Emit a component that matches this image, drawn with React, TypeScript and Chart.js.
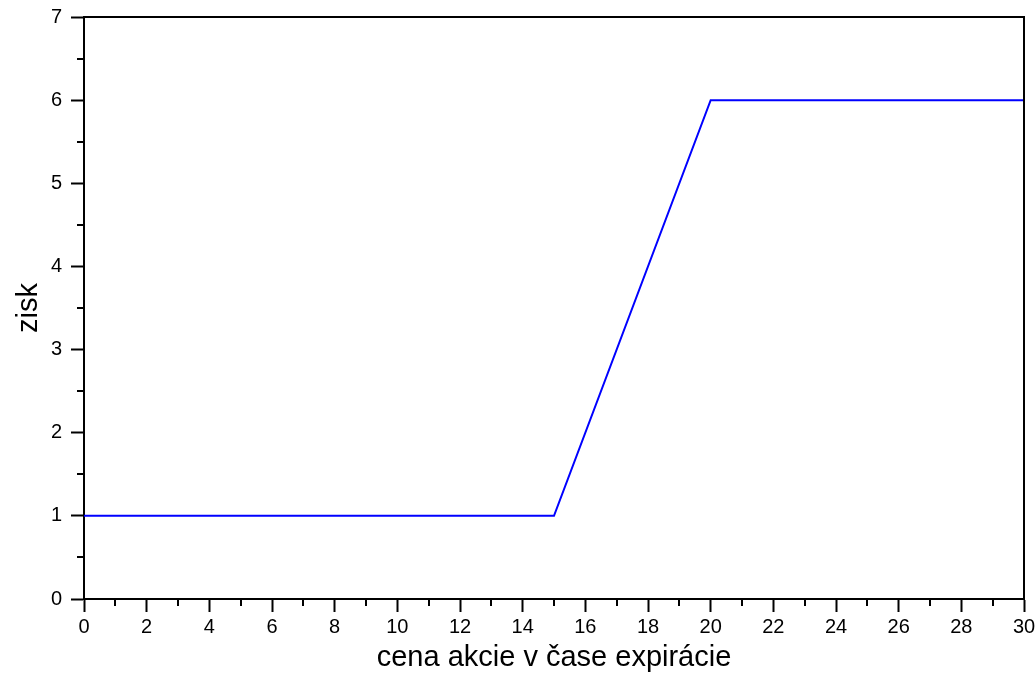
import React, { useEffect, useRef } from "react";
import { Chart, registerables } from "chart.js";

Chart.register(...registerables);

const priceX = [0, 15, 20, 30];
const profitY = [1, 1, 6, 6];
const xMinorTicks = [1, 3, 5, 7, 9, 11, 13, 15, 17, 19, 21, 23, 25, 27, 29];
const yMinorTicks = [0.5, 1.5, 2.5, 3.5, 4.5, 5.5, 6.5];
const xTitle = "cena akcie v čase expirácie";
const yTitle = "zisk";

const FONT = "'Liberation Sans', Arial, Helvetica, sans-serif";

const framePlugin = {
  id: "frameAndMinor",
  afterDraw(chart: any) {
    const { ctx, chartArea } = chart;
    const xs = chart.scales.x;
    const ys = chart.scales.y;
    ctx.save();
    ctx.strokeStyle = "#000";
    ctx.lineWidth = 2;
    ctx.beginPath();
    ctx.moveTo(chartArea.left, chartArea.top);
    ctx.lineTo(chartArea.right, chartArea.top);
    ctx.lineTo(chartArea.right, chartArea.bottom);
    ctx.stroke();
    ctx.beginPath();
    for (const v of xMinorTicks) {
      const px = Math.round(xs.getPixelForValue(v));
      ctx.moveTo(px, chartArea.bottom);
      ctx.lineTo(px, chartArea.bottom + 7);
    }
    for (const v of yMinorTicks) {
      const py = Math.round(ys.getPixelForValue(v));
      ctx.moveTo(chartArea.left - 7, py);
      ctx.lineTo(chartArea.left, py);
    }
    ctx.stroke();
    ctx.restore();
  },
};

export default function App() {
  const ref = useRef<HTMLCanvasElement | null>(null);
  useEffect(() => {
    if (!ref.current) return;
    const chart = new Chart(ref.current, {
      type: "scatter",
      data: {
        datasets: [
          {
            data: priceX.map((x, i) => ({ x, y: profitY[i] })),
            showLine: true,
            borderColor: "#0000ff",
            borderWidth: 2,
            pointRadius: 0,
            fill: false,
          },
        ],
      },
      options: {
        animation: false,
        responsive: false,
        devicePixelRatio: 1,
        layout: { padding: { top: 17, right: 12, left: 0, bottom: 0 } },
        plugins: { legend: { display: false }, tooltip: { enabled: false } },
        scales: {
          x: {
            type: "linear",
            min: 0,
            max: 30,
            afterFit: (s: any) => {
              s.height = 76;
              s.paddingLeft = 0;
              s.paddingRight = 0;
            },
            ticks: {
              stepSize: 2,
              color: "#000",
              padding: 3,
              maxRotation: 0,
              autoSkip: false,
              font: { family: FONT, size: 20 },
            },
            grid: {
              drawOnChartArea: false,
              drawTicks: true,
              tickLength: 13,
              tickColor: "#000",
              tickWidth: 2,
            },
            border: { display: true, color: "#000", width: 2 },
            title: {
              display: true,
              text: xTitle,
              color: "#000",
              font: { family: FONT, size: 29 },
              padding: { top: 0, bottom: 0 },
            },
          },
          y: {
            type: "linear",
            min: 0,
            max: 7,
            afterFit: (s: any) => {
              s.width = 84;
              s.paddingTop = 0;
              s.paddingBottom = 0;
            },
            ticks: {
              stepSize: 1,
              color: "#000",
              padding: 9,
              font: { family: FONT, size: 20 },
            },
            grid: {
              drawOnChartArea: false,
              drawTicks: true,
              tickLength: 13,
              tickColor: "#000",
              tickWidth: 2,
            },
            border: { display: true, color: "#000", width: 2 },
            title: {
              display: true,
              text: yTitle,
              color: "#000",
              font: { family: FONT, size: 29 },
              padding: { top: 12, bottom: 0 },
            },
          },
        },
      },
      plugins: [framePlugin],
    });
    return () => chart.destroy();
  }, []);
  return (
    <div style={{ position: "fixed", left: 0, top: 0, width: 1036, height: 675, background: "#fff" }}>
      <canvas ref={ref} width={1036} height={675} style={{ display: "block" }} />
    </div>
  );
}
